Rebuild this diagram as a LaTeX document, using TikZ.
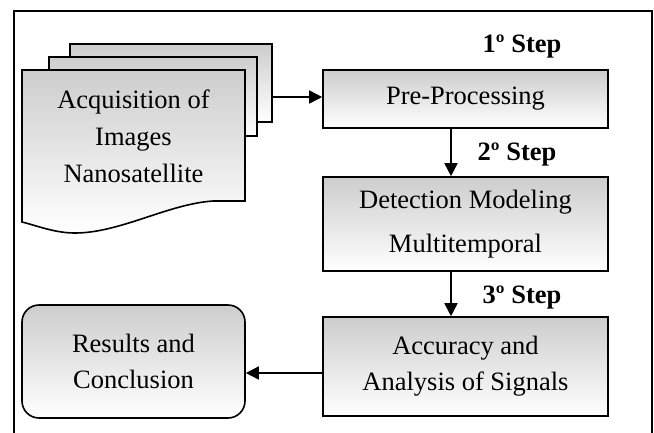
\documentclass[tikz,border=0pt]{standalone}
\usepackage{fontspec}
\setmainfont{Liberation Serif}
\usetikzlibrary{arrows.meta}
\definecolor{shadetop}{RGB}{205,205,205}
\tikzset{
  boxfill/.style={top color=shadetop, bottom color=white, draw=black, line width=1.6pt},
  procbox/.style={boxfill, minimum width=285pt, align=center, inner sep=0pt,
     font=\fontsize{26.5}{36}\selectfont},
  steplbl/.style={font=\fontsize{26.5}{30}\selectfont\bfseries, inner sep=0pt},
  arr/.style={line width=1.6pt, -{Triangle[length=13pt,width=13pt]}},
}
\begin{document}
\begin{tikzpicture}[x=1pt,y=-1pt]
\useasboundingbox (0,0) rectangle (654,432);
\clip (0,0) rectangle (654,432);
\fill[white] (0,0) rectangle (654,432);
\draw[line width=1.7pt] (14,11) rectangle (652,445);

% document stack
\node[boxfill, minimum width=202pt, minimum height=78pt, inner sep=0pt] (back) at (171,83) {};
\node[boxfill, minimum width=208pt, minimum height=79pt, inner sep=0pt] (mid) at (153,96.5) {};
\path[boxfill] (22,70) -- (245,70) -- (245,201) -- (213,201)
  .. controls (168,204) and (120,233) .. (75,233)
  .. controls (55,233) and (38,226) .. (22,222) -- cycle;
\node[align=center, font=\fontsize{26.5}{37}\selectfont, inner sep=0pt] (acq) at (133.5,136)
  {Acquisition of\\Images\\Nanosatellite};

% process boxes
\node[procbox, minimum height=58pt] (pre) at (465.5,99) {Pre-Processing};
\node[procbox, minimum height=94pt] (det) at (465.5,224) {Detection Modeling\\[8pt]Multitemporal};
\node[procbox, minimum height=99pt] (acc) at (465.5,366.5) {Accuracy and\\Analysis of Signals};
\node[boxfill, rounded corners=17pt, minimum width=223pt, minimum height=113pt,
  align=center, inner sep=0pt, font=\fontsize{26.5}{36}\selectfont] (res) at (133.5,361.5)
  {Results and\\Conclusion};

% step labels
\node[steplbl] (s1) at (522,47) {1º Step};
\node[steplbl] (s2) at (517,155) {2º Step};
\node[steplbl] (s3) at (522,298) {3º Step};

% connectors
\draw[arr] ([yshift=-14pt]back.east) -- ([yshift=-14pt]back.east -| pre.west);
\draw[arr] ([xshift=-14.5pt]pre.south) -- ([xshift=-14.5pt]pre.south |- det.north);
\draw[arr] ([xshift=-14.5pt]det.south) -- ([xshift=-14.5pt]det.south |- acc.north);
\draw[arr] ([yshift=-6.5pt]acc.west) -- ([yshift=-6.5pt]acc.west -| res.east);
\end{tikzpicture}
\end{document}
